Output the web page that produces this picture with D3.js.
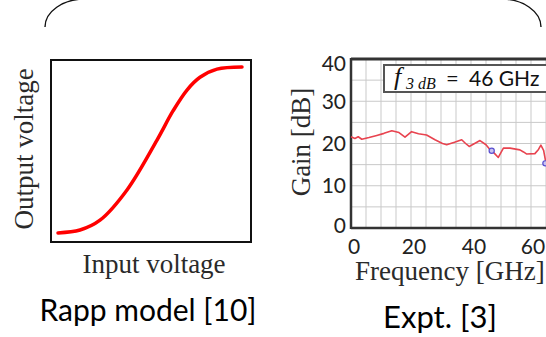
<!DOCTYPE html>
<html><head><meta charset="utf-8">
<script src="https://cdn.jsdelivr.net/npm/d3@7"></script>
<style>html,body{margin:0;padding:0;background:#fff;overflow:hidden}</style>
</head><body>
<svg id="c" width="546" height="337"></svg>
<script>
// ---- Left panel: Rapp model transfer curve (normalised units)
const rappInput  = [0.035, 0.145, 0.245, 0.38, 0.53, 0.61, 0.68, 0.745, 0.83, 0.955];
const rappOutput = [0.05, 0.066, 0.12, 0.286, 0.56, 0.72, 0.835, 0.905, 0.95, 0.962];

// ---- Right panel: measured gain vs frequency
const freqGHz = [0, 1.3, 2.4, 3.6, 6, 8.6, 11, 13.6, 16, 18, 20.2, 22.5, 25.2, 28, 30.5, 31.9, 34.5, 36.9, 38.2, 39.4, 41.5, 43, 45, 46.3, 47.5, 49.1, 50.8, 53, 56.3, 57.5, 58.6, 61.3, 62.5, 63.3, 64.2, 65];
const gainDB  = [21.6, 21.2, 21.6, 21.0, 21.4, 21.9, 22.4, 23.0, 22.6, 21.5, 22.8, 22.3, 22.0, 20.9, 20.0, 19.7, 20.3, 20.9, 20.0, 19.3, 20.1, 20.7, 19.7, 18.6, 17.9, 16.7, 18.9, 18.9, 18.5, 18.0, 17.5, 17.6, 18.6, 19.6, 18.4, 15.3];
const markerFreq = [46.9, 64.8];
const markerGain = [18.3, 15.3];

const yTickLabels = [0, 10, 20, 30, 40];
const xTickLabels = [0, 20, 40, 60];
const gridStepsY = [5, 10, 15, 20, 25, 30, 35];
const gridStepsX = [5, 10, 15, 20, 25, 30, 35, 40, 45, 50, 55, 60, 65];

const svg = d3.select("#c");
const serif = "'Liberation Serif', 'DejaVu Serif', serif";
const sans = "Lato, 'Open Sans', sans-serif";

// decorative rounded bracket at top
svg.append("path")
  .attr("d", "M45,27 A40,28 0 0 1 85,-1 L501,-1 A40,28 0 0 1 541,27")
  .attr("fill", "none").attr("stroke", "#111").attr("stroke-width", 1.4);

// ---------- Left panel
const xL = d3.scaleLinear().domain([0, 1]).range([51, 251]);
const yL = d3.scaleLinear().domain([0, 1]).range([242, 60]);

svg.append("rect").attr("x", xL(0)).attr("y", yL(1))
  .attr("width", xL(1) - xL(0)).attr("height", yL(0) - yL(1))
  .attr("fill", "#fff").attr("stroke", "#111").attr("stroke-width", 2);

const lineL = d3.line().x((d, i) => xL(rappInput[i])).y((d, i) => yL(rappOutput[i]))
  .curve(d3.curveCatmullRom.alpha(0.5));
svg.append("path").datum(rappInput).attr("d", lineL)
  .attr("fill", "none").attr("stroke", "#f00").attr("stroke-width", 3.5)
  .attr("stroke-linecap", "round");

svg.append("text").attr("transform", "translate(33,149) rotate(-90)")
  .attr("text-anchor", "middle").attr("font-family", serif).attr("font-size", 27)
  .attr("fill", "#2a2a2a").text("Output voltage");
svg.append("text").attr("x", 154).attr("y", 273)
  .attr("text-anchor", "middle").attr("font-family", serif).attr("font-size", 27)
  .attr("fill", "#2a2a2a").text("Input voltage");
svg.append("text").attr("x", 148).attr("y", 321)
  .attr("text-anchor", "middle").attr("font-family", sans).attr("font-size", 30)
  .attr("fill", "#000").text("Rapp model [10]");

// ---------- Right panel
const xR = d3.scaleLinear().domain([0, 80]).range([351, 591]);
const yR = d3.scaleLinear().domain([0, 40]).range([228, 59]);

const grid = svg.append("g").attr("stroke", "#c9c9c9").attr("stroke-width", 1);
grid.selectAll("line.h").data(gridStepsY).join("line")
  .attr("x1", xR(0)).attr("x2", xR(80)).attr("y1", d => yR(d)).attr("y2", d => yR(d));
grid.selectAll("line.v").data(gridStepsX).join("line")
  .attr("y1", yR(0)).attr("y2", yR(40)).attr("x1", d => xR(d)).attr("x2", d => xR(d));

// frame
svg.append("line").attr("x1", xR(0)).attr("x2", xR(80)).attr("y1", yR(40)).attr("y2", yR(40))
  .attr("stroke", "#333").attr("stroke-width", 3);
svg.append("line").attr("x1", xR(0)).attr("x2", xR(80)).attr("y1", yR(0)).attr("y2", yR(0))
  .attr("stroke", "#333").attr("stroke-width", 2.5);
svg.append("line").attr("x1", xR(0)).attr("x2", xR(0)).attr("y1", yR(0) + 1).attr("y2", yR(40) - 1)
  .attr("stroke", "#333").attr("stroke-width", 2.5);

// tick labels
svg.append("g").selectAll("text").data(yTickLabels).join("text")
  .attr("x", 346).attr("y", d => yR(d) + (d === 40 ? 4 : d === 0 ? -3 : 0))
  .attr("dy", "0.36em").attr("text-anchor", "end")
  .attr("font-family", sans).attr("font-size", 21).attr("fill", "#222").text(d => d);
svg.append("g").selectAll("text").data(xTickLabels).join("text")
  .attr("x", d => Math.min(xR(d) + 3, 533)).attr("y", 254).attr("text-anchor", "middle")
  .attr("font-family", sans).attr("font-size", 21).attr("fill", "#222").text(d => d);

// gain trace
const lineR = d3.line().x((d, i) => xR(freqGHz[i])).y((d, i) => yR(gainDB[i]));
svg.append("path").datum(freqGHz).attr("d", lineR)
  .attr("fill", "none").attr("stroke", "#e8434f").attr("stroke-width", 1.6)
  .attr("stroke-linejoin", "round");
svg.append("g").selectAll("circle").data(markerFreq).join("circle")
  .attr("cx", d => xR(d)).attr("cy", (d, i) => yR(markerGain[i])).attr("r", 2.6)
  .attr("fill", "#c9c3f0").attr("stroke", "#5a4fd0").attr("stroke-width", 1.2);

// f3dB annotation box
svg.append("rect").attr("x", 384).attr("y", 65).attr("width", 170).attr("height", 27)
  .attr("fill", "#fff").attr("stroke", "#555").attr("stroke-width", 2);
const annG = svg.append("g").attr("fill", "#111");
annG.append("text").attr("x", 394).attr("y", 85).attr("font-family", serif)
  .attr("font-style", "italic").attr("font-size", 26).text("f");
annG.append("text").attr("x", 406).attr("y", 89).attr("font-family", serif)
  .attr("font-style", "italic").attr("font-size", 16).text("3 dB");
annG.append("text").attr("x", 446).attr("y", 86).attr("font-family", sans)
  .attr("font-size", 22).text("=");
annG.append("text").attr("x", 469).attr("y", 86).attr("font-family", sans)
  .attr("font-size", 21).text("46 GHz");

// axis titles
svg.append("text").attr("transform", "translate(310,142) rotate(-90)")
  .attr("text-anchor", "middle").attr("font-family", serif).attr("font-size", 27)
  .attr("fill", "#2a2a2a").text("Gain [dB]");
svg.append("text").attr("x", 355).attr("y", 280)
  .attr("font-family", serif).attr("font-size", 27).attr("fill", "#2a2a2a").text("Frequency [GHz]");
svg.append("text").attr("x", 440).attr("y", 328).attr("text-anchor", "middle")
  .attr("font-family", sans).attr("font-size", 31).attr("fill", "#000").text("Expt. [3]");
</script>
</body></html>
